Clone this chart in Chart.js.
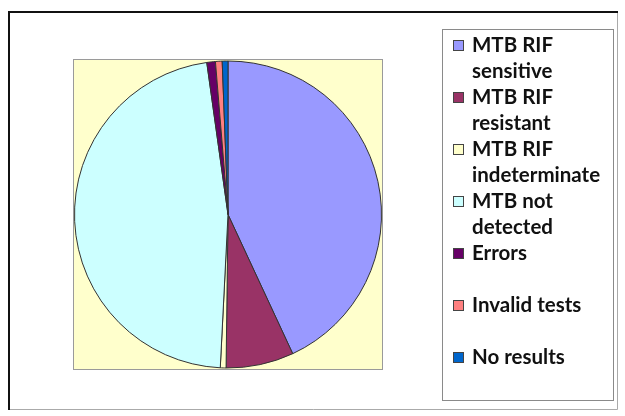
<!DOCTYPE html>
<html>
<head>
<meta charset="utf-8">
<script src="https://cdn.jsdelivr.net/npm/chart.js@4/dist/chart.umd.min.js"></script>
<style>
  html, body { margin: 0; padding: 0; background: #fff; }
  #wrap { width: 625px; height: 416px; position: relative; }
</style>
</head>
<body>
<div id="wrap"><canvas id="xpertChart" width="625" height="416"></canvas></div>
<script>
// categories (legend lines) and values, in percent
const categories = [
  ['MTB RIF', 'sensitive'],
  ['MTB RIF', 'resistant'],
  ['MTB RIF', 'indeterminate'],
  ['MTB not', 'detected'],
  ['Errors'],
  ['Invalid tests'],
  ['No results']
];
const shares = [42.9, 7.1, 0.6, 46.8, 0.9, 0.7, 0.6];
const sliceColors = ['#9999FF', '#993366', '#FFFFCC', '#CCFFFF', '#660066', '#FF8080', '#0066CC'];

// frame, plot area and legend box drawn around the pie
const framePlugin = {
  id: 'frame',
  beforeDraw(chart) {
    const c = chart.ctx;
    const a = chart.chartArea;
    c.save();
    // plot area
    c.fillStyle = '#FFFFCC';
    c.fillRect(a.left, a.top, a.right - a.left, a.bottom - a.top);
    c.strokeStyle = '#9a9a9a';
    c.lineWidth = 1;
    c.strokeRect(a.left - 0.5, a.top - 0.5, a.right - a.left + 1, a.bottom - a.top + 1);
    // outer frame
    c.strokeStyle = '#aaaaaa';
    c.beginPath();
    c.moveTo(617.5, 12); c.lineTo(617.5, 409.5); c.lineTo(9, 409.5);
    c.stroke();
    c.strokeStyle = '#111';
    c.lineWidth = 2;
    c.beginPath();
    c.moveTo(9, 410); c.lineTo(9, 12); c.lineTo(618, 12);
    c.stroke();
    c.restore();
  },
  afterDraw(chart) {
    const c = chart.ctx;
    c.save();
    // legend box
    c.strokeStyle = '#8a8a8a';
    c.lineWidth = 1;
    c.strokeRect(442.5, 29.5, 171, 371);
    c.font = 'bold 20.5px Lato, "Open Sans", sans-serif';
    c.textBaseline = 'middle';
    const lineH = 26;
    let y = 45;
    categories.forEach((lines, i) => {
      c.fillStyle = sliceColors[i];
      c.fillRect(453, y - 5, 11, 11);
      c.strokeStyle = '#444';
      c.strokeRect(453.5, y - 4.5, 10, 10);
      c.fillStyle = '#111';
      lines.forEach((t, k) => c.fillText(t, 472, y + k * lineH));
      y += 2 * lineH;
    });
    c.restore();
  }
};

new Chart(document.getElementById('xpertChart'), {
  type: 'pie',
  data: {
    labels: categories.map(l => l.join(' ')),
    datasets: [{
      data: shares,
      backgroundColor: sliceColors,
      borderColor: '#333',
      borderWidth: 1
    }]
  },
  options: {
    responsive: false,
    animation: false,
    layout: { padding: { left: 74, top: 60, right: 243, bottom: 47 } },
    plugins: {
      legend: { display: false },
      tooltip: { enabled: false }
    }
  },
  plugins: [framePlugin]
});
</script>
</body>
</html>
